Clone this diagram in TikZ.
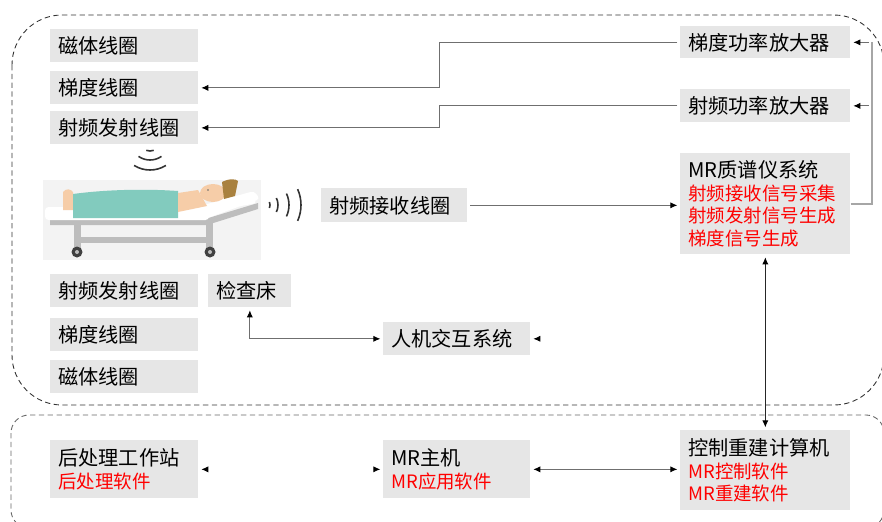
\documentclass[tikz,border=0pt]{standalone}
\usepackage{fontspec}
\setmainfont{Noto Sans CJK SC}
\usetikzlibrary{arrows.meta,positioning}
\definecolor{boxgray}{HTML}{E6E6E6}
\definecolor{linegray}{HTML}{6F6F6F}
\definecolor{railgray}{HTML}{A6A6A6}
\definecolor{bedbg}{HTML}{F3F3F3}
\definecolor{bedgray}{HTML}{BDBDBD}
\definecolor{sheet}{HTML}{82CBBE}
\definecolor{skin}{HTML}{F6CDA8}
\definecolor{hair}{HTML}{A9813F}
\newcommand{\redtxt}[1]{{\color{red}\fontsize{10.5}{13}\selectfont #1}}

\begin{document}
\begin{tikzpicture}[x=0.02cm, y=0.02cm,
    >={Latex[length=4pt,width=3.5pt,color=black]},
    blk/.style={fill=boxgray, anchor=north west, inner xsep=0.16cm,
                inner ysep=0pt, align=left, minimum height=0.66cm,
                font=\fontsize{11.5}{13}\selectfont},
    conn/.style={draw=linegray, line width=0.5pt, shorten >=1.5pt, shorten <=1.5pt},
    ghost/.style={conn, draw=white},
    region/.style={draw=black!80, line width=0.5pt, dash pattern=on 3pt off 2pt},
    wave/.style={draw=black!80, line width=0.9pt},
  ]
  \useasboundingbox (0,0) rectangle (882,-521);

  % scanner room and control room
  \draw[region, rounded corners=1cm] (12,-15) rectangle (884,-405);
  \draw[region, draw=black!60, rounded corners=0.36cm] (11,-415) rectangle (884,-528);

  % coils
  \node[blk, text width=2.64cm] (magA) at (50,-29)  {磁体线圈};
  \node[blk, text width=2.64cm] (grdA) at (50,-71)  {梯度线圈};
  \node[blk, text width=2.64cm] (rftA) at (50,-111) {射频发射线圈};
  \node[blk, text width=2.64cm] (rftB) at (50,-274) {射频发射线圈};
  \node[blk, text width=2.64cm] (grdB) at (50,-318) {梯度线圈};
  \node[blk, text width=2.64cm] (magB) at (50,-360) {磁体线圈};
  \node[blk, text width=1.34cm] (bed)  at (208,-274) {检查床};
  \node[blk, text width=2.60cm, minimum height=0.68cm] (rx) at (321,-188) {射频接收线圈};
  \node[blk, text width=2.62cm] (hmi)  at (383,-322) {人机交互系统};

  % amplifiers and spectrometer
  \node[blk, text width=3.08cm, minimum height=0.64cm] (gpa)  at (680,-26) {梯度功率放大器};
  \node[blk, text width=3.08cm, minimum height=0.66cm] (rfpa) at (680,-89) {射频功率放大器};
  \node[blk, text width=3.08cm, minimum height=2.02cm] (mr) at (680,-153)
    {MR质谱仪系统\\\redtxt{射频接收信号采集}\\\redtxt{射频发射信号生成}\\\redtxt{梯度信号生成}};

  % control room
  \node[blk, text width=2.64cm, minimum height=1.16cm] (post) at (50,-440)
    {后处理工作站\\\redtxt{后处理软件}};
  \node[blk, text width=2.62cm, minimum height=1.16cm] (host) at (383,-440)
    {MR主机\\\redtxt{MR应用软件}};
  \node[blk, text width=3.08cm, minimum height=1.6cm] (ctl) at (680,-430)
    {控制重建计算机\\\redtxt{MR控制软件}\\\redtxt{MR重建软件}};

  % patient on the table
  \fill[bedbg] (43,-180) rectangle (261,-260);
  \fill[bedgray] (50,-219) -- (205,-219) -- (258,-203) -- (258,-209)
    -- (207,-225) -- (50,-225) -- cycle;
  \fill[bedgray] (74,-222) rectangle (81,-248);
  \fill[bedgray] (206,-222) rectangle (213,-248);
  \fill[bedgray] (74,-237) rectangle (213,-243);
  \foreach \wx in {77,210} {
    \fill[black!75] (\wx,-252) circle (5.5);
    \fill[bedgray] (\wx,-252) circle (2);
  }
  \fill[white, rounded corners=2pt] (45,-207) rectangle (209,-220);
  \fill[white, rounded corners=2pt] (200,-206) -- (254,-191) -- (260,-199)
    -- (205,-219) -- cycle;
  \fill[skin] (63,-192) .. controls (66,-188) and (71,-189) .. (73,-192)
    -- (73,-210) -- (63,-210) -- cycle;
  \fill[sheet] (73,-194) .. controls (110,-189) and (150,-189) .. (178,-191)
    -- (178,-218) -- (73,-218) -- cycle;
  \fill[skin] (178,-193) -- (198,-190) -- (207,-206) -- (178,-212) -- cycle;
  \fill[white, rounded corners=3pt] (215,-198) -- (252,-196) -- (258,-203)
    -- (218,-210) -- cycle;
  \fill[skin] (213,-193) ellipse [x radius=13, y radius=9];
  \fill[hair] (222,-182) .. controls (230,-178) and (236,-179) .. (238,-181)
    -- (235,-196) -- (224,-199) -- cycle;
  \fill[black!60] (208,-190) circle (0.9);

  % RF waves
  \draw[wave] (150,-140) ++(-110:11) arc[start angle=-110, end angle=-70, radius=11];
  \draw[wave] (150,-140) ++(-125:20) arc[start angle=-125, end angle=-55, radius=20];
  \draw[wave] (150,-140) ++(-122:30) arc[start angle=-122, end angle=-58, radius=30];
  \draw[wave] (262,-205) ++(-22:8)  arc[start angle=-22, end angle=22, radius=8];
  \draw[wave] (262,-205) ++(-26:16) arc[start angle=-26, end angle=26, radius=16];
  \draw[wave] (262,-205) ++(-25:27) arc[start angle=-25, end angle=25, radius=27];
  \draw[wave] (262,-205) ++(-24:39) arc[start angle=-24, end angle=24, radius=39];

  % signal paths
  \draw[conn, ->] (gpa.west) -- ++(-241,0) |- (grdA.east);
  \draw[conn, ->] (rfpa.west) -- ++(-241,0) |- (rftA.east);
  \draw[draw=railgray, line width=1pt] (mr.east) -- ++(21,0) coordinate (rt)
    -- (rt |- gpa.east);
  \draw[conn, ->] (rt |- gpa.east) -- (gpa.east);
  \draw[conn, ->] (rt |- rfpa.east) -- (rfpa.east);
  \draw[conn, ->] (rx.east) -- (mr.west |- rx.east);
  \draw[conn, <->] (hmi.west) -| (bed.south);
  \coordinate (hmiR) at (575,-338.5);
  \draw[ghost, ->] (hmiR) -- (hmi.east);
  \draw[conn, draw=black!85, <->] (mr.south) -- (ctl.north);
  \draw[conn, <->] (host.east) -- (ctl.west |- host.east);
  \draw[ghost, <->] (post.east) -- (host.west);
\end{tikzpicture}
\end{document}
